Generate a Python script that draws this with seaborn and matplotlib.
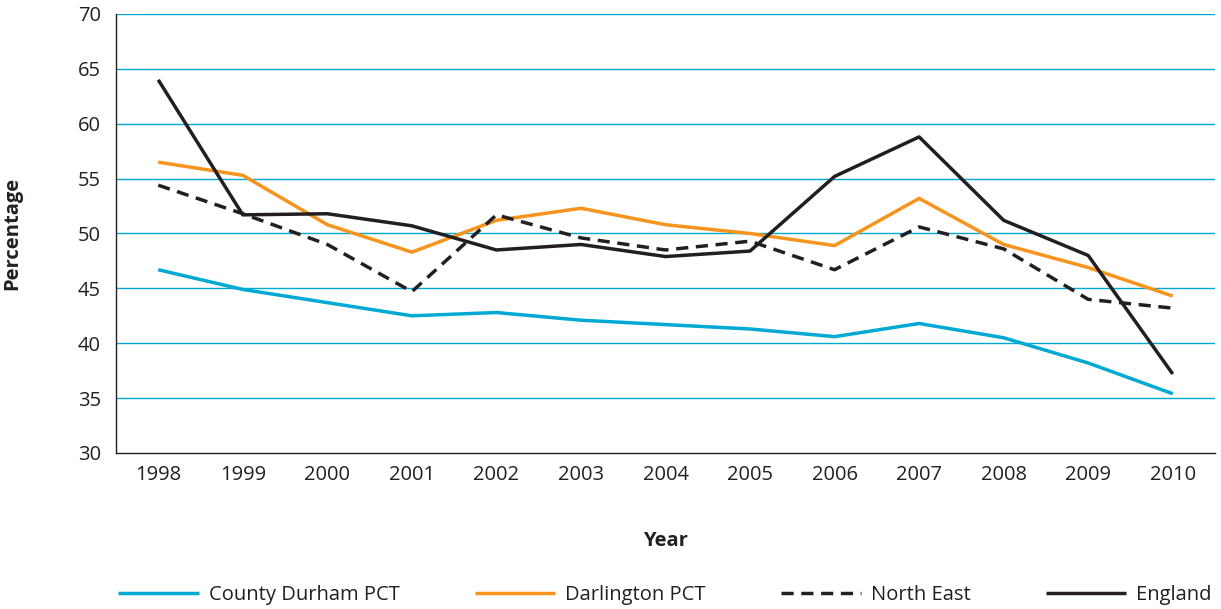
import numpy as np
import pandas as pd
import seaborn as sns
import matplotlib.pyplot as plt
from matplotlib.lines import Line2D

years = list(range(1998, 2011))
county_durham = [46.7, 44.9, 43.7, 42.5, 42.8, 42.1, 41.7, 41.3, 40.6, 41.8, 40.5, 38.2, 35.4]
darlington = [56.5, 55.3, 50.8, 48.3, 51.2, 52.3, 50.8, 50.0, 48.9, 53.2, 49.0, 46.9, 44.3]
north_east = [54.4, 51.8, 49.0, 44.7, 51.7, 49.6, 48.5, 49.3, 46.7, 50.6, 48.6, 44.0, 43.2]
england = [64.0, 51.7, 51.8, 50.7, 48.5, 49.0, 47.9, 48.4, 55.2, 58.8, 51.2, 48.0, 37.2]

series_names = ['County Durham PCT', 'Darlington PCT', 'North East', 'England']
colors = ['#00A9D4', '#F7941D', '#231F20', '#231F20']
dashes = [(1, 0), (1, 0), (3.5, 2.2), (1, 0)]

df = pd.DataFrame({
    'Year': years * 4,
    'Percentage': county_durham + darlington + north_east + england,
    'Series': sum([[n] * len(years) for n in series_names], []),
})

sns.set_style('white')
plt.rcParams['font.family'] = ['Open Sans', 'DejaVu Sans']
fs = 14.5

fig = plt.figure(figsize=(12.21, 6.09), dpi=100)
ax = fig.add_axes([116 / 1221, 1 - 453 / 609, 1099 / 1221, 439 / 609])

for y in range(35, 71, 5):
    ax.axhline(y, color='#00A9D4', lw=1.0, zorder=0)

sns.lineplot(data=df, x='Year', y='Percentage', hue='Series', style='Series',
             palette=dict(zip(series_names, colors)),
             dashes=dict(zip(series_names, dashes)),
             linewidth=2.5, ax=ax, legend=False)

ax.set_xlim(1997.5, 2010.5)
ax.set_ylim(30, 70)
ax.set_yticks(range(30, 71, 5))
ax.set_xticks(np.arange(1997.5, 2011, 1))
ax.set_xticklabels([])
ax.set_xticks(years, minor=True)
ax.set_xticklabels([str(y) for y in years], minor=True)
ax.tick_params(axis='x', which='major', direction='out', length=10, width=1, color='#231F20')
ax.tick_params(axis='x', which='minor', length=0, pad=9, labelsize=fs, labelcolor='#231F20')
ax.tick_params(axis='y', direction='out', length=9, width=1, color='#231F20',
               labelsize=fs, labelcolor='#231F20', pad=2)

for s in ['top', 'right']:
    ax.spines[s].set_visible(False)
for s in ['left', 'bottom']:
    ax.spines[s].set_color('#231F20')
    ax.spines[s].set_linewidth(1.0)

ax.set_xlabel('Year', fontsize=fs, fontweight='bold', color='#231F20', labelpad=33)
ax.set_ylabel('Percentage', fontsize=fs, fontweight='bold', color='#231F20', labelpad=40)

handles = [Line2D([0], [0], color=c, lw=2.5, dashes=d) for c, d in zip(colors, dashes)]
fig.legend(handles, series_names, loc='center', ncol=4, mode='expand',
           bbox_to_anchor=(100 / 1221, 0.0, 1130 / 1221, 0.045),
           frameon=False, fontsize=fs, handlelength=4.0, handletextpad=0.5,
           labelcolor='#231F20')

fig.savefig('out.png', dpi=100)
